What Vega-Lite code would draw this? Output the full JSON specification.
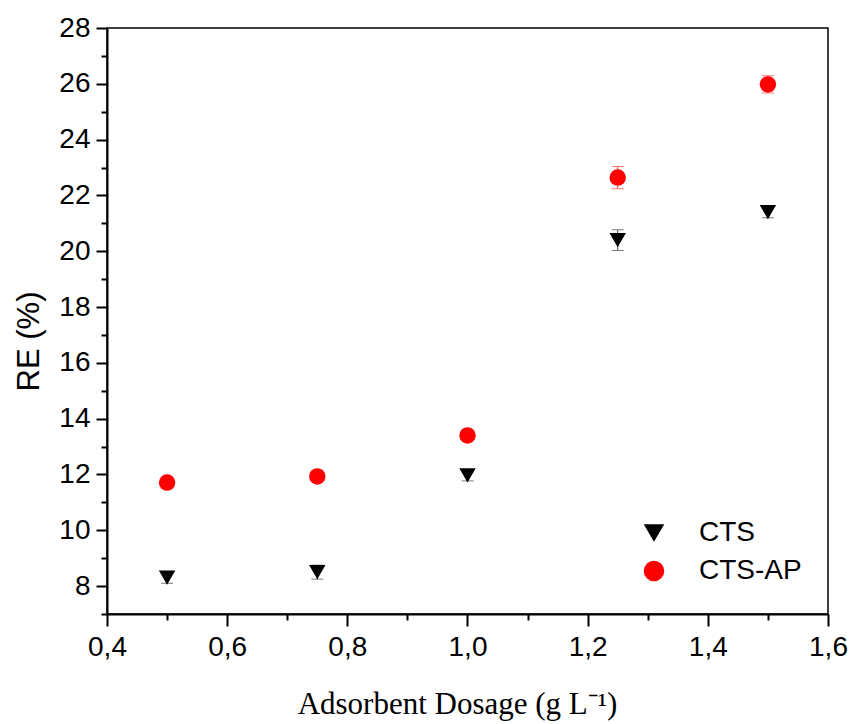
{
  "$schema": "https://vega.github.io/schema/vega-lite/v6.json",
  "autosize": {"type": "none"},
  "width": 721,
  "height": 586,
  "padding": {"left": 107, "top": 28, "right": 25, "bottom": 110},
  "background": "white",
  "config": {
    "font": "Liberation Sans",
    "view": {"stroke": "black", "strokeWidth": 1.5},
    "axis": {
      "domainColor": "black",
      "domainWidth": 2,
      "tickColor": "black",
      "tickWidth": 2,
      "labelColor": "black",
      "titleColor": "black",
      "labelFont": "Liberation Sans",
      "labelFontSize": 28,
      "grid": false
    },
    "legend": {
      "labelFontSize": 28,
      "labelFont": "Liberation Sans",
      "labelColor": "black"
    }
  },
  "data": {
    "values": [
      {"dose": 0.5, "series": "CTS", "re": 8.3, "err": 0.2},
      {"dose": 0.75, "series": "CTS", "re": 8.5, "err": 0.25},
      {"dose": 1.0, "series": "CTS", "re": 11.97, "err": 0.2},
      {"dose": 1.25, "series": "CTS", "re": 20.4, "err": 0.37},
      {"dose": 1.5, "series": "CTS", "re": 21.4, "err": 0.2},
      {"dose": 0.5, "series": "CTS-AP", "re": 11.71, "err": 0.2},
      {"dose": 0.75, "series": "CTS-AP", "re": 11.93, "err": 0.15},
      {"dose": 1.0, "series": "CTS-AP", "re": 13.4, "err": 0.15},
      {"dose": 1.25, "series": "CTS-AP", "re": 22.64, "err": 0.4},
      {"dose": 1.5, "series": "CTS-AP", "re": 25.98, "err": 0.31}
    ]
  },
  "encoding": {
    "x": {
      "field": "dose",
      "type": "quantitative",
      "scale": {"domain": [0.4, 1.6], "nice": false, "zero": false},
      "axis": {
        "title": "Adsorbent Dosage (g L⁻¹)",
        "titleFont": "Liberation Serif",
        "titleFontSize": 31,
        "titleFontWeight": "normal",
        "titlePadding": 28,
        "titleX": 350,
        "values": [0.4, 0.5, 0.6, 0.7, 0.8, 0.9, 1.0, 1.1, 1.2, 1.3, 1.4, 1.5, 1.6],
        "labelExpr": "round(datum.value * 10) % 2 === 0 ? replace(format(datum.value, '.1f'), '.', ',') : ''",
        "tickSize": {"condition": {"test": "round(datum.value * 10) % 2 === 0", "value": 12}, "value": 6},
        "labelPadding": 7,
        "labelFlush": false,
        "labelOverlap": false
      }
    },
    "y": {
      "field": "re",
      "type": "quantitative",
      "scale": {"domain": [7, 28], "nice": false, "zero": false},
      "axis": {
        "title": "RE (%)",
        "titleFont": "Liberation Sans",
        "titleFontSize": 31,
        "titleFontWeight": "normal",
        "titlePadding": 13,
        "titleY": 313,
        "values": [7, 8, 9, 10, 11, 12, 13, 14, 15, 16, 17, 18, 19, 20, 21, 22, 23, 24, 25, 26, 27, 28],
        "labelExpr": "datum.value % 2 === 0 ? datum.label : ''",
        "tickSize": {"condition": {"test": "datum.value % 2 === 0", "value": 11}, "value": 6},
        "labelPadding": 6,
        "labelFlush": false,
        "labelOverlap": false
      }
    }
  },
  "layer": [
    {
      "transform": [{"filter": "datum.series === 'CTS'"}],
      "mark": {"type": "errorbar", "color": "#444444", "thickness": 1, "ticks": {"size": 12, "thickness": 1, "color": "#444444"}},
      "encoding": {"yError": {"field": "err"}}
    },
    {
      "transform": [{"filter": "datum.series === 'CTS-AP'"}],
      "mark": {"type": "errorbar", "color": "#ff4040", "thickness": 1, "ticks": {"size": 12, "thickness": 1, "color": "#ff4040"}},
      "encoding": {"yError": {"field": "err"}}
    },
    {
      "mark": {"type": "point", "filled": true, "opacity": 1, "size": 270},
      "encoding": {
        "shape": {
          "field": "series",
          "type": "nominal",
          "scale": {"domain": ["CTS", "CTS-AP"], "range": ["triangle-down", "circle"]},
          "legend": {
            "title": null,
            "orient": "none",
            "legendX": 533,
            "legendY": 491,
            "symbolSize": 420,
            "labelOffset": 31,
            "rowPadding": 10,
            "symbolStrokeWidth": 0
          }
        },
        "color": {
          "field": "series",
          "type": "nominal",
          "scale": {"domain": ["CTS", "CTS-AP"], "range": ["black", "#ff0000"]},
          "legend": {
            "title": null,
            "orient": "none",
            "legendX": 533,
            "legendY": 491,
            "symbolSize": 420,
            "labelOffset": 31,
            "rowPadding": 10,
            "symbolStrokeWidth": 0
          }
        }
      }
    }
  ]
}
